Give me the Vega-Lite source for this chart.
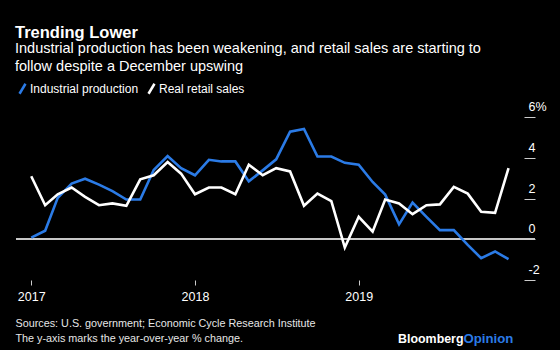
{
  "$schema": "https://vega.github.io/schema/vega-lite/v6.json",
  "width": 519,
  "height": 163,
  "autosize": {"type": "none"},
  "padding": {"left": 16, "top": 117, "right": 25, "bottom": 70},
  "background": "#000000",
  "config": {"view": {"stroke": null}, "font": "Liberation Sans"},
  "title": {
    "text": "Trending Lower",
    "subtitle": ["Industrial production has been weakening, and retail sales are starting to", "follow despite a December upswing"],
    "anchor": "start",
    "frame": "group",
    "color": "#ffffff",
    "subtitleColor": "#ffffff",
    "font": "Liberation Sans",
    "subtitleFont": "Liberation Sans",
    "fontSize": 16.5,
    "subtitleFontSize": 14.5,
    "fontWeight": "bold",
    "subtitleLineHeight": 18,
    "subtitlePadding": 0,
    "offset": 9,
    "dx": -1
  },
  "data": {"values": [
    {"date": "2017-01-01", "series": "Industrial production", "value": 0.08},
    {"date": "2017-02-01", "series": "Industrial production", "value": 0.42},
    {"date": "2017-03-01", "series": "Industrial production", "value": 2.03},
    {"date": "2017-04-01", "series": "Industrial production", "value": 2.73},
    {"date": "2017-05-01", "series": "Industrial production", "value": 2.97},
    {"date": "2017-06-01", "series": "Industrial production", "value": 2.68},
    {"date": "2017-07-01", "series": "Industrial production", "value": 2.36},
    {"date": "2017-08-01", "series": "Industrial production", "value": 1.95},
    {"date": "2017-09-01", "series": "Industrial production", "value": 1.95},
    {"date": "2017-10-01", "series": "Industrial production", "value": 3.4},
    {"date": "2017-11-01", "series": "Industrial production", "value": 4.08},
    {"date": "2017-12-01", "series": "Industrial production", "value": 3.49},
    {"date": "2018-01-01", "series": "Industrial production", "value": 3.14},
    {"date": "2018-02-01", "series": "Industrial production", "value": 3.9},
    {"date": "2018-03-01", "series": "Industrial production", "value": 3.82},
    {"date": "2018-04-01", "series": "Industrial production", "value": 3.82},
    {"date": "2018-05-01", "series": "Industrial production", "value": 2.84},
    {"date": "2018-06-01", "series": "Industrial production", "value": 3.38},
    {"date": "2018-07-01", "series": "Industrial production", "value": 3.92},
    {"date": "2018-08-01", "series": "Industrial production", "value": 5.28},
    {"date": "2018-09-01", "series": "Industrial production", "value": 5.41},
    {"date": "2018-10-01", "series": "Industrial production", "value": 4.06},
    {"date": "2018-11-01", "series": "Industrial production", "value": 4.06},
    {"date": "2018-12-01", "series": "Industrial production", "value": 3.75},
    {"date": "2019-01-01", "series": "Industrial production", "value": 3.66},
    {"date": "2019-02-01", "series": "Industrial production", "value": 2.81},
    {"date": "2019-03-01", "series": "Industrial production", "value": 2.19},
    {"date": "2019-04-01", "series": "Industrial production", "value": 0.73},
    {"date": "2019-05-01", "series": "Industrial production", "value": 1.8},
    {"date": "2019-06-01", "series": "Industrial production", "value": 1.1},
    {"date": "2019-07-01", "series": "Industrial production", "value": 0.45},
    {"date": "2019-08-01", "series": "Industrial production", "value": 0.45},
    {"date": "2019-09-01", "series": "Industrial production", "value": -0.28},
    {"date": "2019-10-01", "series": "Industrial production", "value": -0.93},
    {"date": "2019-11-01", "series": "Industrial production", "value": -0.6},
    {"date": "2019-12-01", "series": "Industrial production", "value": -0.98},
    {"date": "2017-01-01", "series": "Real retail sales", "value": 3.09},
    {"date": "2017-02-01", "series": "Real retail sales", "value": 1.67},
    {"date": "2017-03-01", "series": "Real retail sales", "value": 2.21},
    {"date": "2017-04-01", "series": "Real retail sales", "value": 2.54},
    {"date": "2017-05-01", "series": "Real retail sales", "value": 2.08},
    {"date": "2017-06-01", "series": "Real retail sales", "value": 1.67},
    {"date": "2017-07-01", "series": "Real retail sales", "value": 1.76},
    {"date": "2017-08-01", "series": "Real retail sales", "value": 1.64},
    {"date": "2017-09-01", "series": "Real retail sales", "value": 2.94},
    {"date": "2017-10-01", "series": "Real retail sales", "value": 3.14},
    {"date": "2017-11-01", "series": "Real retail sales", "value": 3.79},
    {"date": "2017-12-01", "series": "Real retail sales", "value": 3.22},
    {"date": "2018-01-01", "series": "Real retail sales", "value": 2.21},
    {"date": "2018-02-01", "series": "Real retail sales", "value": 2.54},
    {"date": "2018-03-01", "series": "Real retail sales", "value": 2.54},
    {"date": "2018-04-01", "series": "Real retail sales", "value": 2.21},
    {"date": "2018-05-01", "series": "Real retail sales", "value": 3.66},
    {"date": "2018-06-01", "series": "Real retail sales", "value": 3.14},
    {"date": "2018-07-01", "series": "Real retail sales", "value": 3.49},
    {"date": "2018-08-01", "series": "Real retail sales", "value": 3.33},
    {"date": "2018-09-01", "series": "Real retail sales", "value": 1.64},
    {"date": "2018-10-01", "series": "Real retail sales", "value": 2.24},
    {"date": "2018-11-01", "series": "Real retail sales", "value": 1.87},
    {"date": "2018-12-01", "series": "Real retail sales", "value": -0.41},
    {"date": "2019-01-01", "series": "Real retail sales", "value": 1.1},
    {"date": "2019-02-01", "series": "Real retail sales", "value": 0.37},
    {"date": "2019-03-01", "series": "Real retail sales", "value": 1.95},
    {"date": "2019-04-01", "series": "Real retail sales", "value": 1.76},
    {"date": "2019-05-01", "series": "Real retail sales", "value": 1.23},
    {"date": "2019-06-01", "series": "Real retail sales", "value": 1.67},
    {"date": "2019-07-01", "series": "Real retail sales", "value": 1.71},
    {"date": "2019-08-01", "series": "Real retail sales", "value": 2.57},
    {"date": "2019-09-01", "series": "Real retail sales", "value": 2.24},
    {"date": "2019-10-01", "series": "Real retail sales", "value": 1.35},
    {"date": "2019-11-01", "series": "Real retail sales", "value": 1.3},
    {"date": "2019-12-01", "series": "Real retail sales", "value": 3.49}
  ]},
  "layer": [
    {
      "mark": {"type": "rule", "color": "#c8c8c8", "strokeWidth": 1},
      "encoding": {
        "y": {
          "datum": 0,
          "type": "quantitative",
          "scale": {"domain": [-2, 6], "nice": false, "zero": false},
          "axis": {
            "orient": "left",
            "labels": false,
            "ticks": false,
            "domain": false,
            "grid": false,
            "title": "Opinion",
            "titleColor": "#2b7be6",
            "titleFont": "Liberation Sans",
            "titleFontWeight": "bold",
            "titleFontSize": 13.2,
            "titleAngle": 0,
            "titleAlign": "left",
            "titleBaseline": "alphabetic",
            "titleX": 447,
            "titleY": 225
          }
        }
      }
    },
    {
      "mark": {"type": "line", "strokeWidth": 2.6},
      "encoding": {
        "x": {
          "field": "date",
          "type": "temporal",
          "scale": {"type": "utc", "domain": [{"year": 2016, "month": 11, "date": 28, "utc": true}, {"year": 2020, "month": 1, "date": 29, "utc": true}]},
          "axis": {
            "values": [{"year": 2017, "month": 1, "date": 1, "utc": true}, {"year": 2018, "month": 1, "date": 1, "utc": true}, {"year": 2019, "month": 1, "date": 1, "utc": true}],
            "format": "%Y",
            "domain": false,
            "grid": false,
            "tickSize": 5,
            "tickColor": "#cccccc",
            "labelColor": "#ffffff",
            "labelFontSize": 12.5,
            "labelPadding": 5,
            "title": ["Sources: U.S. government; Economic Cycle Research Institute", "The y-axis marks the year-over-year % change."],
            "titleX": -1,
            "titleY": 46.7,
            "titleAlign": "left",
            "titleAnchor": "start",
            "titleBaseline": "alphabetic",
            "titleFontSize": 10.8,
            "titleFontWeight": "normal",
            "titleColor": "#e6e6e6",
            "titleLineHeight": 15
          }
        },
        "y": {
          "field": "value",
          "type": "quantitative",
          "scale": {"domain": [-2, 6], "nice": false, "zero": false},
          "axis": {
            "orient": "right",
            "values": [-2, 0, 2, 4, 6],
            "domain": false,
            "grid": false,
            "tickSize": -11,
            "tickColor": "#cccccc",
            "labelPadding": 4,
            "labelAlign": "left",
            "labelBaseline": "alphabetic",
            "labelOffset": -6.5,
            "labelColor": "#ffffff",
            "labelFontSize": 12.5,
            "labelExpr": "datum.value == 6 ? '6%' : '' + datum.value",
            "title": "Bloomberg",
            "titleColor": "#ffffff",
            "titleFont": "Liberation Sans",
            "titleFontWeight": "bold",
            "titleFontSize": 12.4,
            "titleAngle": 0,
            "titleAlign": "right",
            "titleBaseline": "alphabetic",
            "titleX": -72,
            "titleY": 225
          }
        },
        "color": {
          "field": "series",
          "type": "nominal",
          "scale": {"domain": ["Industrial production", "Real retail sales"], "range": ["#2b7be6", "#ffffff"]},
          "legend": {
            "orient": "none",
            "legendX": 0,
            "legendY": -35,
            "direction": "horizontal",
            "title": null,
            "symbolType": "M-0.6,1L0.6,-1",
            "symbolSize": 100,
            "symbolStrokeWidth": 2.5,
            "labelColor": "#ffffff",
            "labelFontSize": 12,
            "labelOffset": 1,
            "columnPadding": 4,
            "padding": 0
          }
        }
      }
    }
  ],
  "resolve": {"axis": {"y": "independent"}}
}
